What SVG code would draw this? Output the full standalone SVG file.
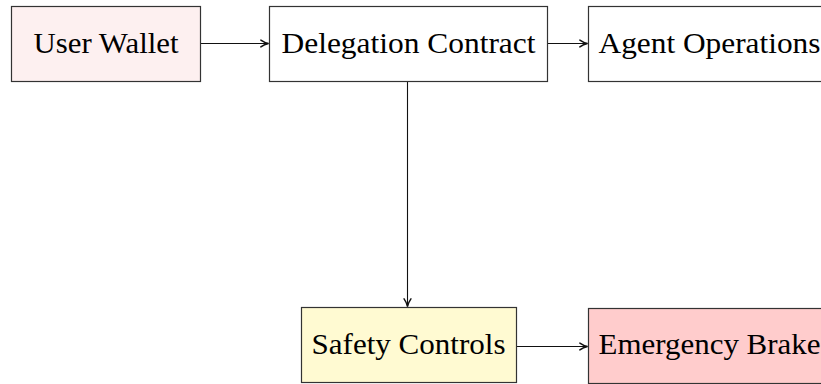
<svg xmlns="http://www.w3.org/2000/svg" width="821" height="384" viewBox="0 0 821 384">
  <style>
    .box { stroke: #333333; stroke-width: 1.2; }
    .label { font-family: "Liberation Serif", "DejaVu Serif", serif; font-size: 30px; fill: #000000; text-anchor: middle; }
    .edge { fill: none; stroke: #111111; stroke-width: 1.1; }
  </style>
  <defs>
    <marker id="arrow" viewBox="0 0 10 10" refX="9.5" refY="5" markerWidth="9" markerHeight="9" markerUnits="userSpaceOnUse" orient="auto">
      <path d="M1,1.2 Q5,4 9.5,5 Q5,6 1,8.8" fill="none" stroke="#111111" stroke-width="1.6" stroke-linecap="round"/>
    </marker>
  </defs>

  <rect width="821" height="384" fill="#ffffff"/>

  <g id="connectors">
    <line class="edge" x1="200.5" y1="43.5" x2="268.5" y2="43.5" marker-end="url(#arrow)"/>
    <line class="edge" x1="547.5" y1="43.5" x2="587.5" y2="43.5" marker-end="url(#arrow)"/>
    <line class="edge" x1="407.5" y1="81.5" x2="407.5" y2="306.5" marker-end="url(#arrow)"/>
    <line class="edge" x1="516.5" y1="346.5" x2="587.5" y2="346.5" marker-end="url(#arrow)"/>
  </g>

  <g id="user-wallet">
    <rect class="box" x="11.5" y="6.5" width="189" height="75" fill="#fdf0f0"/>
    <text class="label" x="106" y="53" textLength="145" lengthAdjust="spacingAndGlyphs">User Wallet</text>
  </g>

  <g id="delegation-contract">
    <rect class="box" x="269.5" y="6.5" width="278" height="75" fill="#ffffff"/>
    <text class="label" x="408.5" y="53" textLength="254" lengthAdjust="spacingAndGlyphs">Delegation Contract</text>
  </g>

  <g id="agent-operations">
    <rect class="box" x="588.5" y="6.5" width="243" height="75" fill="#ffffff"/>
    <text class="label" x="709.5" y="53" textLength="222" lengthAdjust="spacingAndGlyphs">Agent Operations</text>
  </g>

  <g id="safety-controls">
    <rect class="box" x="301.5" y="307.5" width="215" height="75" fill="#fffad2"/>
    <text class="label" x="408.5" y="354" textLength="194" lengthAdjust="spacingAndGlyphs">Safety Controls</text>
  </g>

  <g id="emergency-brake">
    <rect class="box" x="588.5" y="308.5" width="243" height="75" fill="#ffcccc"/>
    <text class="label" x="709.5" y="354" textLength="222" lengthAdjust="spacingAndGlyphs">Emergency Brake</text>
  </g>
</svg>
